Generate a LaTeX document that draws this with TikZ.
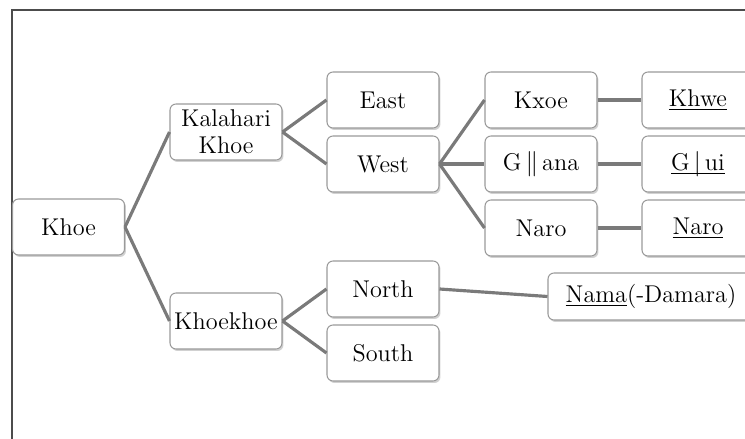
\documentclass[tikz,border=0pt]{standalone}
\usetikzlibrary{shadows}
\definecolor{linegray}{HTML}{7A7A7A}
\definecolor{boxgray}{HTML}{9A9A9A}
\tikzset{
  langbox/.style={draw=boxgray, line width=.6pt, fill=white, rounded corners=.12cm,
    minimum width=2.24cm, minimum height=1.12cm, align=center, inner sep=1pt,
    font=\fontsize{13.8}{15.5}\selectfont,
    drop shadow={shadow xshift=.03cm, shadow yshift=-.04cm, fill=black!30, opacity=.6}},
  branch/.style={draw=linegray, line width=1.8pt}
}
\begin{document}
\begin{tikzpicture}[x=.02cm, y=-.02cm]

      \clip(0, 0) rectangle (745, 439);
      \draw[black!70, line width=.6pt](12, 439) to (12, 10) to (745, 10);

      \node[langbox] at(68.5, 227)(khoe){Khoe};
      \node[langbox] at(226, 132)(kalahari){Kalahari\\Khoe};
      \node[langbox] at(226, 321)(khoekhoe){Khoekhoe};
      \node[langbox] at(383, 100)(east){East};
      \node[langbox] at(383, 164)(west){West};
      \node[langbox] at(383, 289)(north){North};
      \node[langbox] at(383, 353)(south){South};
      \node[langbox] at(541, 100)(kxoe){Kxoe};
      \node[langbox] at(541, 164)(gana){G\,$\|$\,ana};
      \node[langbox] at(541, 228)(naro){Naro};
      \node[langbox] at(698, 100)(khwe){\underline{Khwe}};
      \node[langbox] at(698, 164)(gui){\underline{G\,\smash{$|$}\,ui}};
      \node[langbox] at(698, 228)(naroB){\underline{Naro}};
      \node[langbox, minimum width=4.12cm, minimum height=.94cm] at(651, 296.5)(nama){\underline{Nama}(-Damara)};

      \draw[branch](khoe.east) to (kalahari.west);
      \draw[branch](khoe.east) to (khoekhoe.west);
      \draw[branch](kalahari.east) to (east.west);
      \draw[branch](kalahari.east) to (west.west);
      \draw[branch](khoekhoe.east) to (north.west);
      \draw[branch](khoekhoe.east) to (south.west);
      \draw[branch](west.east) to (kxoe.west);
      \draw[branch](west.east) to (gana.west);
      \draw[branch](west.east) to (naro.west);
      \draw[branch](kxoe.east) to (khwe.west);
      \draw[branch](gana.east) to (gui.west);
      \draw[branch](naro.east) to (naroB.west);
      \draw[branch](north.east) to (nama.west);
      \end{tikzpicture}
\end{document}
